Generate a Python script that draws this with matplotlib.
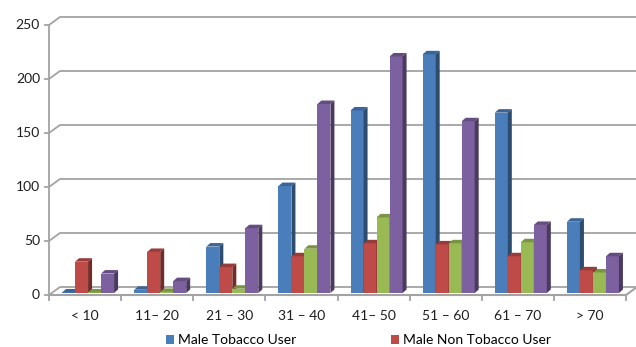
import matplotlib
matplotlib.use("Agg")
import matplotlib.pyplot as plt
import numpy as np
from matplotlib.patches import Polygon, Patch

categories = ["< 10", "11\u2013 20", "21 \u2013 30", "31 \u2013 40",
              "41\u2013 50", "51 \u2013 60", "61 \u2013 70", "> 70"]
male_tobacco = [0.5, 3, 43, 99, 169, 221, 167, 66]
male_non_tobacco = [29, 38, 24, 34, 46, 45, 34, 21]
series_3 = [0.5, 1, 4, 41, 70, 46, 47, 19]
series_4 = [18, 11, 60, 175, 219, 159, 63, 34]
legend_labels = ["Male Tobacco User", "Male Non Tobacco User"]
y_ticks = [0, 50, 100, 150, 200, 250]

series = [male_tobacco, male_non_tobacco, series_3, series_4]
front_colors = ["#4A7EBB", "#BE4B48", "#98B954", "#7D60A0"]


def shade(hex_color, f):
    rgb = np.array(matplotlib.colors.to_rgb(hex_color))
    return tuple(rgb * f)


W, H = 636, 347
fig = plt.figure(figsize=(W / 100, H / 100), dpi=100)
left_px, right_px, floor_px, top_px = 49, 626, 295, 25
ax = fig.add_axes([left_px / W, (H - floor_px) / H,
                   (right_px - left_px) / W, (floor_px - top_px) / H])
n = len(categories)
ax.set_xlim(0, n)
ax.set_ylim(0, 250)
ax.axis("off")

# pixel -> data conversions
px_x = n / (right_px - left_px)
px_y = 250 / (floor_px - top_px)

# wall depth
wdx, wdy = 11 * px_x, 8 * px_y
grid_c = "#A3A3A3"
txt_c = "#1E1E1E"
fs = 10

# back wall gridlines with the slanted connectors to the front axis
for v in y_ticks:
    ax.plot([0, wdx, n + wdx], [v, v + wdy, v + wdy], color=grid_c,
            lw=1.3, clip_on=False, zorder=1, solid_capstyle="butt")
    ax.plot([-4 * px_x, 0], [v, v], color=grid_c, lw=1.3, clip_on=False,
            zorder=1)
    ax.text(-9 * px_x, v, str(v), ha="right", va="center", fontsize=fs,
            family="Lato", color=txt_c)

# front value axis
ax.plot([0, 0], [0, 250], color=grid_c, lw=1.3, clip_on=False, zorder=1)
# floor
ax.plot([0, n, n + wdx], [0, 0, wdy], color=grid_c, lw=1.5,
        clip_on=False, zorder=10)
for i in range(n + 1):
    ax.plot([i, i], [0, -5 * px_y], color=grid_c, lw=1.3, clip_on=False,
            zorder=1)
for i, c in enumerate(categories):
    ax.text(i + 0.5, -21 * px_y, c, ha="center", va="center", fontsize=fs,
            family="Lato", color=txt_c)

# bars with pseudo-3D sides and tops
bw = 13 * px_x
bdx, bdy = 4 * px_x, 3.5 * px_y
shift_x, base = 3 * px_x, 2 * px_y
for j, (vals, col) in enumerate(zip(series, front_colors)):
    xs = np.arange(n) + 0.5 + (j - 1.5) * bw + shift_x
    ax.bar(xs, vals, width=bw, bottom=base, color=col, zorder=3 + j,
           clip_on=False, linewidth=0)
    for x, v in zip(xs, vals):
        x0, x1 = x - bw / 2, x + bw / 2
        top = base + v
        ax.add_patch(Polygon([(x0, top), (x1, top), (x1 + bdx, top + bdy),
                              (x0 + bdx, top + bdy)], closed=True,
                             facecolor=shade(col, 0.8), lw=0, zorder=3 + j,
                             clip_on=False))
        ax.add_patch(Polygon([(x1, base), (x1 + bdx, base + bdy),
                              (x1 + bdx, top + bdy), (x1, top)], closed=True,
                             facecolor=shade(col, 0.6), lw=0, zorder=3 + j,
                             clip_on=False))

handles = [Patch(facecolor=front_colors[k], edgecolor="none")
           for k in range(len(legend_labels))]
fig.legend(handles, legend_labels, ncol=2, loc="center left",
           bbox_to_anchor=(153 / W, 1 - 340 / H), frameon=False,
           handlelength=0.6, handleheight=0.6, handletextpad=0.3,
           columnspacing=6.8, prop={"family": "Lato", "size": fs})

fig.savefig("out.png", dpi=100, facecolor="white")
